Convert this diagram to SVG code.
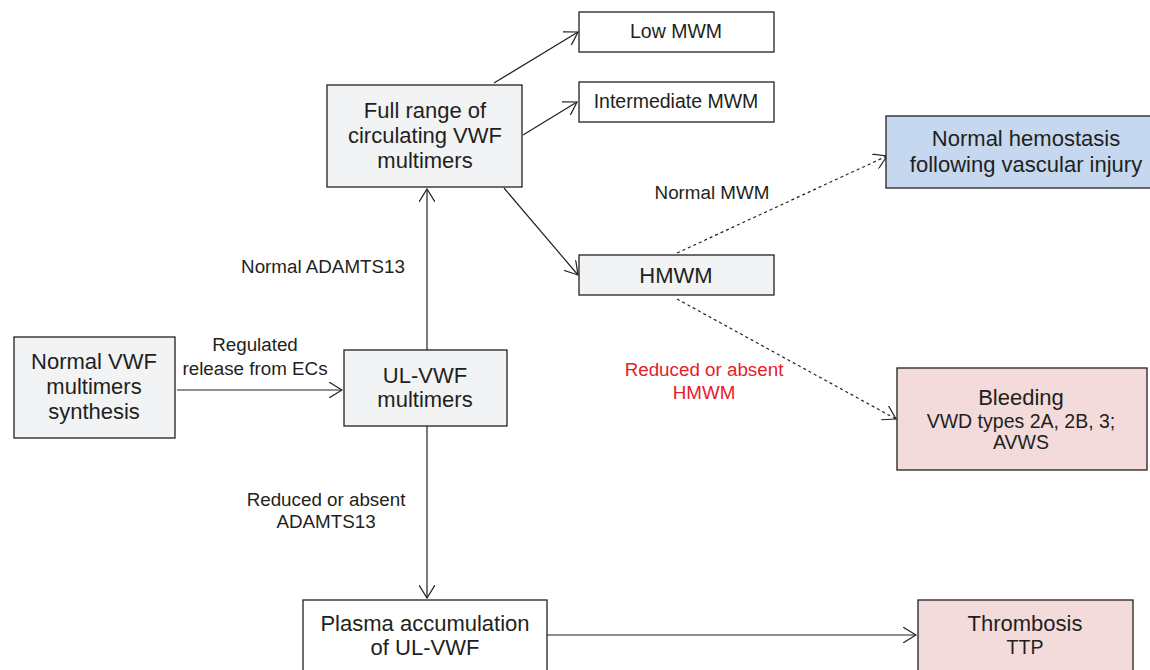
<svg xmlns="http://www.w3.org/2000/svg" width="1150" height="670" viewBox="0 0 1150 670">
<defs>
<style>
.box{stroke:#231f20;stroke-width:1.3;}
.gray{fill:#f2f3f5;}
.white{fill:#ffffff;}
.blue{fill:#c5d8ef;}
.pink{fill:#f3dadb;}
text{font-family:"Liberation Sans",Arial,sans-serif;fill:#231f20;text-anchor:middle;}
.n{font-size:22px;}
.s{font-size:19.5px;}
.lab{font-size:18.8px;}
.red{fill:#e8202a;}
.ln{stroke:#231f20;stroke-width:1.2;fill:none;marker-end:url(#arr);}
.dot{stroke-dasharray:3,3;}
</style>
<marker id="arr" viewBox="0 0 14 16" refX="13" refY="8" markerWidth="14" markerHeight="16" markerUnits="userSpaceOnUse" orient="auto">
<path d="M0,0 L13,8 L0,16" fill="none" stroke="#231f20" stroke-width="1.2"/>
</marker>
</defs>
<rect width="1150" height="670" fill="#ffffff"/>
<g id="connectors">
<line class="ln" x1="177" y1="390" x2="342" y2="390"/>
<line class="ln" x1="427" y1="350" x2="427" y2="189"/>
<line class="ln" x1="427" y1="426" x2="427" y2="598"/>
<line class="ln" x1="494" y1="83" x2="578" y2="32"/>
<line class="ln" x1="523" y1="135" x2="577" y2="102"/>
<line class="ln" x1="504" y1="188" x2="578" y2="275"/>
<line class="ln dot" x1="677" y1="253" x2="887" y2="156"/>
<line class="ln dot" x1="677" y1="299" x2="896" y2="419"/>
<line class="ln" x1="547" y1="635" x2="916" y2="635"/>
<text class="lab" x="255" y="351">Regulated</text>
<text class="lab" x="255" y="375">release from ECs</text>
<text class="lab" x="323" y="273">Normal ADAMTS13</text>
<text class="lab" x="326" y="506">Reduced or absent</text>
<text class="lab" x="326" y="528">ADAMTS13</text>
<text class="lab" x="712" y="199">Normal MWM</text>
<text class="lab red" x="704" y="376">Reduced or absent</text>
<text class="lab red" x="704" y="399">HMWM</text>
</g>
<g id="synthesis">
<rect class="box gray" x="14" y="337" width="161" height="101"/>
<text class="n" x="94" y="369">Normal VWF</text>
<text class="n" x="94" y="394">multimers</text>
<text class="n" x="94" y="419">synthesis</text>
</g>
<g id="ulvwf">
<rect class="box gray" x="344" y="350" width="163" height="76"/>
<text class="n" x="425" y="383">UL-VWF</text>
<text class="n" x="425" y="407">multimers</text>
</g>
<g id="fullrange">
<rect class="box gray" x="327" y="85" width="195" height="102"/>
<text class="n" x="425" y="118">Full range of</text>
<text class="n" x="425" y="143">circulating VWF</text>
<text class="n" x="425" y="168">multimers</text>
</g>
<g id="low">
<rect class="box white" x="579" y="12" width="195" height="40"/>
<text class="s" x="676" y="38">Low MWM</text>
</g>
<g id="intermediate">
<rect class="box white" x="579" y="82" width="195" height="40"/>
<text class="s" x="676" y="108">Intermediate MWM</text>
</g>
<g id="hmwm">
<rect class="box gray" x="579" y="255" width="195" height="40"/>
<text class="n" x="676" y="283">HMWM</text>
</g>
<g id="hemostasis">
<rect class="box blue" x="886" y="116" width="270" height="72"/>
<text class="n" x="1026" y="146">Normal hemostasis</text>
<text class="n" x="1026" y="172">following vascular injury</text>
</g>
<g id="bleeding">
<rect class="box pink" x="897" y="368" width="250" height="102"/>
<text class="n" x="1021" y="405">Bleeding</text>
<text class="s" x="1021" y="428">VWD types 2A, 2B, 3;</text>
<text class="s" x="1021" y="449">AVWS</text>
</g>
<g id="plasma">
<rect class="box white" x="303" y="600" width="244" height="80"/>
<text class="n" x="425" y="631">Plasma accumulation</text>
<text class="n" x="425" y="655">of UL-VWF</text>
</g>
<g id="thrombosis">
<rect class="box pink" x="918" y="600" width="215" height="80"/>
<text class="n" x="1025" y="631">Thrombosis</text>
<text class="s" x="1025" y="654">TTP</text>
</g>
</svg>
